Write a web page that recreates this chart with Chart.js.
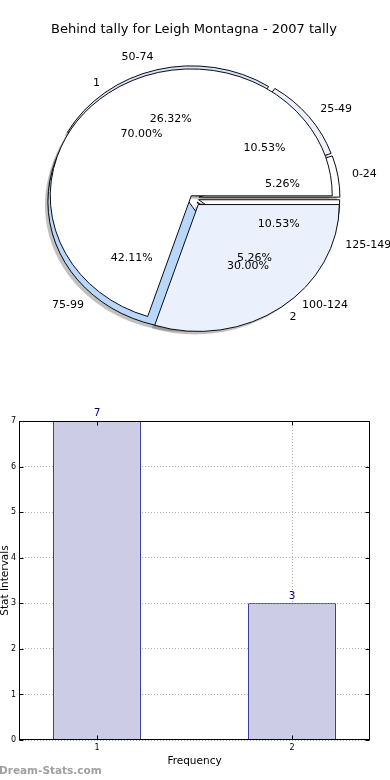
<!DOCTYPE html>
<html>
<head>
<meta charset="utf-8">
<script src="https://cdn.jsdelivr.net/npm/chart.js@4.4.0/dist/chart.umd.min.js"></script>
<style>
  html, body { margin: 0; padding: 0; background: #fff; }
  #wrap { position: relative; width: 390px; height: 780px; overflow: hidden; }
  canvas { position: absolute; left: 0; }
  #pieA, #pieB { top: 0; }
  #bars { top: 400px; }
</style>
</head>
<body>
<div id="wrap">
  <canvas id="pieA" width="390" height="396"></canvas>
  <canvas id="pieB" width="390" height="396"></canvas>
  <canvas id="bars" width="390" height="380"></canvas>
</div>
<script>
const chartTitle = 'Behind tally for Leigh Montagna - 2007 tally';

// first pie : behind tally ranges (matplotlib order, counter clockwise from 3 o'clock)
const rangeLabels = ['0-24', '25-49', '50-74', '75-99', '100-124', '125-149'];
const rangeCounts = [1, 2, 5, 8, 1, 2];
const rangeColors = ['#ffffff', '#eaf0fc', '#d6e4fb', '#b9d7fb', '#d6e4fb', '#ffffff'];
const rangeExplode = [6, 6, 6, 6, 6, 6];

// second pie : frequency
const freqLabels = ['1', '2'];
const freqCounts = [7, 3];
const freqColors = ['#ffffff', '#eaf0fc'];
const freqExplode = [3, 9];

// bar chart
const barX = [1, 2];
const barValues = [7, 3];
const yTicks = [0, 1, 2, 3, 4, 5, 6, 7];

Chart.defaults.font.family = "'DejaVu Sans', sans-serif";
Chart.defaults.color = '#000';

const SY = 0.9;   // the original pie is squashed a bit vertically
const rev = a => a.slice().reverse();   // chart.js draws clockwise

function wedgeTransform(ctx, arc, ex) {
    const mid = (arc.startAngle + arc.endAngle) / 2;
    ctx.translate(arc.x + Math.cos(mid) * ex, arc.y + Math.sin(mid) * ex * SY);
    ctx.scale(1, SY);
    ctx.translate(-arc.x, -arc.y);
}

function drawShadows(ctx, src) {
    const ex = src.data.datasets[0].explode;
    src.getDatasetMeta(0).data.forEach((arc, i) => {
        ctx.save();
        ctx.translate(-3, 3);
        wedgeTransform(ctx, arc, ex[i]);
        ctx.beginPath();
        ctx.moveTo(arc.x, arc.y);
        ctx.arc(arc.x, arc.y, arc.outerRadius, arc.startAngle, arc.endAngle);
        ctx.closePath();
        ctx.fillStyle = 'rgba(77,77,77,0.35)';
        ctx.fill();
        ctx.restore();
    });
}

function drawWedges(chart) {
    const ctx = chart.ctx;
    const ex = chart.data.datasets[0].explode;
    chart.getDatasetMeta(0).data.forEach((arc, i) => {
        ctx.save();
        wedgeTransform(ctx, arc, ex[i]);
        arc.draw(ctx);
        ctx.restore();
    });
}

function drawPieText(ctx, chart) {
    const ds = chart.data.datasets[0];
    const total = ds.data.reduce((a, b) => a + b, 0);
    ctx.font = "11px 'DejaVu Sans'";
    ctx.fillStyle = '#000';
    ctx.textBaseline = 'middle';
    // keep matplotlib order for the overlap
    const arcs = chart.getDatasetMeta(0).data.map((arc, i) => [arc, i]).reverse();
    arcs.forEach(([arc, i]) => {
        const mid = (arc.startAngle + arc.endAngle) / 2;
        const c = Math.cos(mid), s = Math.sin(mid);
        const ox = arc.x + c * ds.explode[i], oy = arc.y + s * ds.explode[i] * SY;
        const r = arc.outerRadius;
        ctx.textAlign = c > 0 ? 'left' : 'right';
        ctx.fillText(chart.data.labels[i], ox + c * r * 1.1, oy + s * r * 1.1 * SY);
        ctx.textAlign = 'center';
        ctx.fillText((ds.data[i] / total * 100).toFixed(2) + '%', ox + c * r * 0.6, oy + s * r * 0.6 * SY);
    });
}

const pieOptions = {
    responsive: false,
    animation: false,
    events: [],
    rotation: 90,
    radius: 141,
    layout: { padding: { right: 4 } },
    plugins: { legend: { display: false }, tooltip: { enabled: false } }
};

let pieA = null, pieB = null;

pieA = new Chart(document.getElementById('pieA'), {
    type: 'pie',
    data: {
        labels: rev(rangeLabels),
        datasets: [{
            data: rev(rangeCounts),
            backgroundColor: rev(rangeColors),
            explode: rev(rangeExplode),
            borderColor: '#000',
            borderWidth: 1
        }]
    },
    options: pieOptions,
    plugins: [{
        id: 'pieAdraw',
        beforeDatasetsDraw(chart) {
            drawShadows(chart.ctx, chart);
            if (pieB) drawShadows(chart.ctx, pieB);
            drawWedges(chart);
            return false;
        }
    }]
});

pieB = new Chart(document.getElementById('pieB'), {
    type: 'pie',
    data: {
        labels: rev(freqLabels),
        datasets: [{
            data: rev(freqCounts),
            backgroundColor: rev(freqColors),
            explode: rev(freqExplode),
            borderColor: '#000',
            borderWidth: 1
        }]
    },
    options: pieOptions,
    plugins: [{
        id: 'pieBdraw',
        beforeDatasetsDraw(chart) {
            drawWedges(chart);
            return false;
        },
        afterDraw(chart) {
            const ctx = chart.ctx;
            ctx.save();
            drawPieText(ctx, pieA);
            drawPieText(ctx, chart);
            ctx.font = "13px 'DejaVu Sans'";
            ctx.textAlign = 'center';
            ctx.textBaseline = 'middle';
            ctx.fillText(chartTitle, 194, 30);
            ctx.restore();
        }
    }]
});
pieA.draw();

// --- bar chart ---
const barDecor = {
    id: 'barDecor',
    afterDatasetsDraw(chart) {
        const ctx = chart.ctx;
        ctx.save();
        ctx.font = "10.5px 'DejaVu Sans'";
        ctx.fillStyle = '#000080';
        ctx.textAlign = 'center';
        ctx.textBaseline = 'bottom';
        chart.getDatasetMeta(0).data.forEach((bar, i) => {
            ctx.fillText(String(barValues[i]), bar.x, bar.y - 2);
        });
        ctx.restore();
    },
    afterDraw(chart) {
        const ctx = chart.ctx;
        const a = chart.chartArea;
        const xs = chart.scales.x, ys = chart.scales.y;
        ctx.save();
        ctx.strokeStyle = '#000';
        ctx.lineWidth = 1;
        const L = Math.round(a.left) + 0.5, R = Math.round(a.right) - 0.5;
        const T = Math.round(a.top) + 0.5, B = Math.round(a.bottom) - 0.5;
        ctx.strokeRect(L, T, R - L, B - T);
        ctx.beginPath();
        yTicks.forEach(v => {
            const y = Math.round(ys.getPixelForValue(v)) + 0.5;
            ctx.moveTo(L, y); ctx.lineTo(L + 4, y);
            ctx.moveTo(R, y); ctx.lineTo(R - 4, y);
        });
        barX.forEach(v => {
            const x = Math.round(xs.getPixelForValue(v)) + 0.5;
            ctx.moveTo(x, B); ctx.lineTo(x, B - 4);
            ctx.moveTo(x, T); ctx.lineTo(x, T + 4);
        });
        ctx.stroke();
        ctx.font = "bold 10.5px 'DejaVu Sans'";
        ctx.fillStyle = '#a0a0a0';
        ctx.textAlign = 'left';
        ctx.textBaseline = 'alphabetic';
        ctx.fillText('Dream-Stats.com', -1, 374);
        ctx.restore();
    }
};

new Chart(document.getElementById('bars'), {
    type: 'bar',
    data: {
        datasets: [{
            data: barX.map((x, i) => ({ x: x, y: barValues[i] })),
            backgroundColor: '#ccccE6',
            borderColor: '#000080',
            borderWidth: 1,
            barPercentage: 0.45,
            categoryPercentage: 1
        }]
    },
    options: {
        responsive: false,
        animation: false,
        events: [],
        layout: { padding: { top: 21, right: 20, left: 0, bottom: 0 } },
        plugins: { legend: { display: false }, tooltip: { enabled: false } },
        scales: {
            x: {
                type: 'linear', min: 0.6, max: 2.4, z: 1, offset: false,
                afterBuildTicks: s => { s.ticks = barX.map(v => ({ value: v })); },
                afterFit: s => { s.height = 40; },
                grid: { color: '#b4b4b4', drawTicks: false, offset: false },
                border: { display: false, dash: [1, 2] },
                ticks: { font: { size: 8 }, padding: 3, callback: v => String(v) },
                title: { display: true, text: 'Frequency', font: { size: 10.5 }, padding: { top: 0, bottom: 12 } }
            },
            y: {
                min: 0, max: 7, z: 1,
                afterBuildTicks: s => { s.ticks = yTicks.map(v => ({ value: v })); },
                afterFit: s => { s.width = 19; },
                grid: { color: '#b4b4b4', drawTicks: false },
                border: { display: false, dash: [1, 2] },
                ticks: { font: { size: 8 }, padding: 3, callback: v => String(v) },
                title: { display: true, text: 'Stat Intervals', font: { size: 10.5 }, padding: { top: -1, bottom: 0 } }
            }
        }
    },
    plugins: [barDecor]
});
</script>
</body>
</html>
